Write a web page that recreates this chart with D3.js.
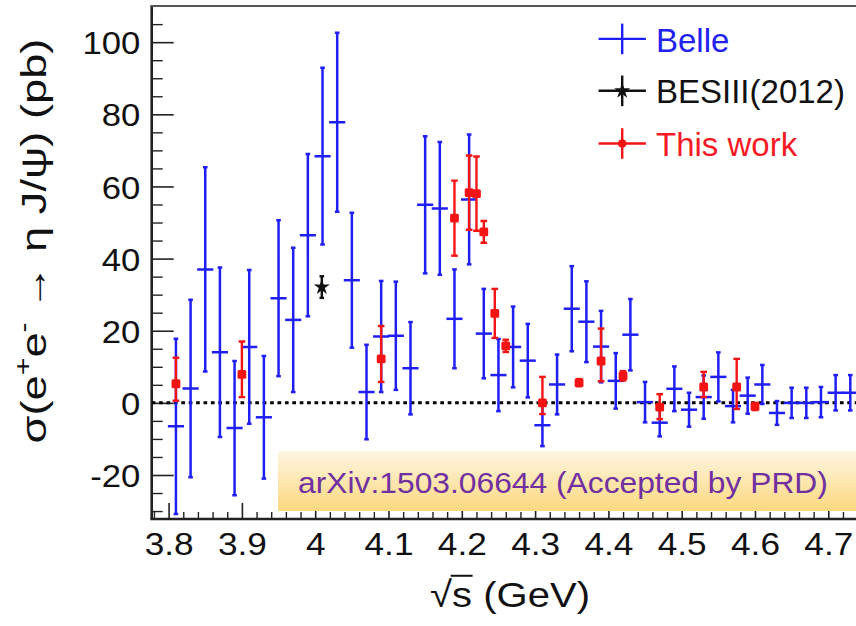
<!DOCTYPE html>
<html><head><meta charset="utf-8">
<script src="https://cdn.jsdelivr.net/npm/d3@7"></script>
<style>
body{margin:0;background:#fff}
text{font-family:"Liberation Sans",Arial,Helvetica,sans-serif}
</style>
</head><body>
<svg id="c" width="856" height="626"></svg>
<script>
// ---------------- data ----------------
const belleE = [3.81,3.83,3.85,3.87,3.89,3.91,3.93,3.95,3.97,3.99,4.01,4.03,4.05,4.07,4.09,4.11,4.13,4.15,4.17,4.19,
  4.21,4.23,4.25,4.27,4.29,4.31,4.33,4.35,4.37,4.39,4.41,4.43,4.45,4.47,4.49,4.51,4.53,4.55,4.57,4.59,4.61,4.63,
  4.65,4.67,4.69,4.71,4.73];
const belleXS = [-6.5,4.0,37.0,14.0,-7.0,15.5,-4.0,29.0,23.0,46.5,68.4,77.8,34.0,3.0,18.4,18.6,9.6,54.9,53.9,23.3,
  56.4,19.2,7.7,15.5,11.7,-6.2,5.1,26.1,22.5,15.6,6.1,18.9,0.2,-5.5,3.9,-1.9,1.6,7.2,-0.9,2.0,5.1,-2.8,
  0.0,0.0,0.2,2.8,2.8];
const belleErr = [24.3,24.6,28.3,23.5,18.6,21.3,17.0,21.6,20.0,22.5,24.5,24.8,18.7,13.1,15.4,15.0,12.8,19.0,18.4,13.7,
  18.0,12.4,10.0,11.2,10.2,5.8,8.3,11.8,11.2,9.9,7.7,9.9,5.6,3.8,6.2,4.7,6.0,6.8,4.5,5.0,5.4,3.3,
  4.2,4.2,4.2,4.9,4.9];
const belleHalfBin = 0.011;

const besE = [4.009];
const besXS = [32.1];
const besErr = [3.0];

const workE = [3.81,3.90,4.09,4.19,4.21,4.22,4.23,4.245,4.26,4.31,4.36,4.39,4.42,4.47,4.53,4.575,4.60];
const workXS = [5.3,7.9,12.2,51.2,58.3,58.0,47.4,24.8,15.8,0.0,5.6,11.6,7.5,-1.2,4.4,4.4,-1.0];
const workErrHi = [7.2,9.1,9.1,10.4,10.3,10.3,3.0,6.8,1.7,7.2,1.0,9.0,1.3,3.6,4.2,7.8,1.0];
const workErrLo = [4.7,6.3,6.4,10.4,10.3,10.3,3.0,6.8,1.7,3.1,1.0,5.6,1.3,3.3,2.8,6.1,1.0];

const xTicks = [3.8,3.9,4.0,4.1,4.2,4.3,4.4,4.5,4.6,4.7];
const xTickLabels = ["3.8","3.9","4","4.1","4.2","4.3","4.4","4.5","4.6","4.7"];
const yTicks = [-20,0,20,40,60,80,100];
const yTickLabels = ["-20","0","20","40","60","80","100"];

const legendLabels = ["Belle","BESIII(2012)","This work"];
const noteText = "arXiv:1503.06644 (Accepted by PRD)";

// ---------------- layout ----------------
const BLUE = "#1f1ff5", RED = "#f51414", BLACK = "#111";
const L = 151.7, T = 6.1, B = 519, R = 860;
const svg = d3.select("#c");
const x = d3.scaleLinear().domain([3.8, 4.7]).range([168.6, 828.3]);
const y = d3.scaleLinear().domain([-32.2, 110]).range([B, T]);

const defs = svg.append("defs");
defs.append("clipPath").attr("id","clip").append("rect")
  .attr("x", L).attr("y", T).attr("width", R - L).attr("height", B - T);
const grad = defs.append("linearGradient").attr("id","boxg").attr("x1",0).attr("y1",0).attr("x2",0).attr("y2",1);
grad.append("stop").attr("offset","0%").attr("stop-color","#fef5e3");
grad.append("stop").attr("offset","100%").attr("stop-color","#fcd97e");

// ---------------- axes ----------------
const xMinor = d3.range(3.78, 4.75, 0.02).filter(v => Math.abs(v*10 - Math.round(v*10)) > 1e-6);
svg.append("g").attr("transform", `translate(0,${B})`)
  .call(d3.axisBottom(x).tickValues(xMinor).tickSize(-7).tickSizeOuter(0).tickFormat(""))
  .call(g => g.select(".domain").remove())
  .selectAll("line").attr("stroke", "#222").attr("stroke-width", 1.4);

const xSX = 1.1;
svg.append("g").attr("transform", `translate(0,${B})`)
  .call(d3.axisBottom(x).tickValues(xTicks).tickSize(-16).tickSizeOuter(0)
        .tickFormat((d,i) => xTickLabels[i]))
  .call(g => g.select(".domain").remove())
  .call(g => g.selectAll("line").attr("stroke", "#222").attr("stroke-width", 1.6))
  .call(g => g.selectAll("text").attr("y", 36).attr("dy", null)
        .attr("font-size", 32).attr("fill", "#111")
        .attr("font-family", '"Liberation Sans",Arial,sans-serif')
        .attr("transform", `scale(${xSX},1)`));

const yMinor = d3.range(-30, 110, 5).filter(v => v % 20 !== 0);
svg.append("g").attr("transform", `translate(${L},0)`)
  .call(d3.axisLeft(y).tickValues(yMinor).tickSize(-11).tickSizeOuter(0).tickFormat(""))
  .call(g => g.select(".domain").remove())
  .selectAll("line").attr("stroke", "#222").attr("stroke-width", 1.4);

const ySX = 1.12;
svg.append("g").attr("transform", `translate(${L},0)`)
  .call(d3.axisLeft(y).tickValues(yTicks).tickSize(-22).tickSizeOuter(0)
        .tickFormat((d,i) => yTickLabels[i]))
  .call(g => g.select(".domain").remove())
  .call(g => g.selectAll("line").attr("stroke", "#222").attr("stroke-width", 1.6))
  .call(g => g.selectAll("text").attr("x", -11.4 / ySX).attr("dy", 11.6)
        .attr("font-size", 31).attr("fill", "#111")
        .attr("font-family", '"Liberation Sans",Arial,sans-serif')
        .attr("transform", `scale(${ySX},1)`));

// frame
const frame = svg.append("g").attr("stroke", "#222").attr("fill", "none");
frame.append("line").attr("x1", L).attr("x2", L).attr("y1", T).attr("y2", B).attr("stroke-width", 2.6);
frame.append("line").attr("x1", L - 1.3).attr("x2", R).attr("y1", B).attr("y2", B).attr("stroke-width", 2.6);
frame.append("line").attr("x1", L - 1.3).attr("x2", R).attr("y1", T).attr("y2", T).attr("stroke-width", 2).attr("stroke", "#555");

// zero line
const plot = svg.append("g").attr("clip-path", "url(#clip)");
plot.append("line").attr("x1", L).attr("x2", R).attr("y1", y(0)).attr("y2", y(0))
  .attr("stroke", "#000").attr("stroke-width", 3).attr("stroke-dasharray", "3.7,3.7");

// ---------------- Belle ----------------
const bg = plot.append("g").attr("stroke", BLUE).attr("stroke-width", 2.5).attr("fill", "none");
belleE.forEach((e, i) => {
  const v = belleXS[i], er = belleErr[i];
  const cx = x(e);
  bg.append("line").attr("x1", cx).attr("x2", cx).attr("y1", y(v - er)).attr("y2", y(v + er));
  bg.append("line").attr("x1", cx - 2.3).attr("x2", cx + 2.3).attr("y1", y(v - er)).attr("y2", y(v - er));
  bg.append("line").attr("x1", cx - 2.3).attr("x2", cx + 2.3).attr("y1", y(v + er)).attr("y2", y(v + er));
  bg.append("line").attr("x1", x(e - belleHalfBin)).attr("x2", x(e + belleHalfBin)).attr("y1", y(v)).attr("y2", y(v));
});

// ---------------- BESIII(2012) ----------------
const kg = plot.append("g");
besE.forEach((e, i) => {
  const v = besXS[i], er = besErr[i], cx = x(e);
  kg.append("line").attr("x1", cx).attr("x2", cx).attr("y1", y(v - er)).attr("y2", y(v + er))
    .attr("stroke", BLACK).attr("stroke-width", 2.4);
  [v - er, v + er].forEach(w => kg.append("line").attr("x1", cx - 2.3).attr("x2", cx + 2.3)
    .attr("y1", y(w)).attr("y2", y(w)).attr("stroke", BLACK).attr("stroke-width", 2.4));
  kg.append("path").attr("d", d3.symbol(d3.symbolStar, 80)())
    .attr("transform", `translate(${cx},${y(v)})`).attr("fill", BLACK);
});

// ---------------- This work ----------------
const rg = plot.append("g");
workE.forEach((e, i) => {
  const v = workXS[i], cx = x(e);
  const lo = y(v - workErrLo[i]), hi = y(v + workErrHi[i]);
  rg.append("line").attr("x1", cx).attr("x2", cx).attr("y1", lo).attr("y2", hi)
    .attr("stroke", RED).attr("stroke-width", 2.4);
  [lo, hi].forEach(yy => rg.append("line").attr("x1", cx - 3.3).attr("x2", cx + 3.3)
    .attr("y1", yy).attr("y2", yy).attr("stroke", RED).attr("stroke-width", 2.4));
  rg.append("rect").attr("x", cx - 4.4).attr("y", y(v) - 4.4).attr("width", 8.8).attr("height", 8.8)
    .attr("rx", 1.5).attr("fill", RED);
});

// ---------------- legend ----------------
const legY = [38.9, 90.8, 143.5];
const legCol = [BLUE, BLACK, RED];
const lg = svg.append("g");
legendLabels.forEach((lab, i) => {
  const cy = legY[i], c = legCol[i];
  lg.append("line").attr("x1", 598.6).attr("x2", 645.9).attr("y1", cy).attr("y2", cy)
    .attr("stroke", c).attr("stroke-width", 2.4);
  lg.append("line").attr("x1", 622.2).attr("x2", 622.2).attr("y1", cy - 15.3).attr("y2", cy + 15.3)
    .attr("stroke", c).attr("stroke-width", 2.4);
  if (i === 1) lg.append("path").attr("d", d3.symbol(d3.symbolStar, 80)())
    .attr("transform", `translate(622.2,${cy})`).attr("fill", BLACK);
  if (i === 2) lg.append("circle").attr("cx", 622.2).attr("cy", cy).attr("r", 4.3).attr("fill", RED);
  lg.append("text").attr("x", 656).attr("y", cy + 12.6).attr("font-size", 33)
    .attr("fill", i === 0 ? "#2222ee" : (i === 2 ? "#f41a26" : "#111")).text(lab);
});

// ---------------- note box ----------------
svg.append("rect").attr("x", 278).attr("y", 451).attr("width", 600).attr("height", 60)
  .attr("fill", "url(#boxg)");
const note = svg.append("text").attr("text-anchor", "middle").attr("font-size", 30)
  .attr("fill", "#7030a0").text(noteText);
{
  const w = note.node().getBBox().width, k = 530 / w;
  note.attr("transform", `translate(563,493) scale(${k},1)`);
}

// ---------------- axis titles ----------------
const yt = svg.append("g").attr("transform", "translate(46,241) rotate(-90)");
const ytt = yt.append("text").attr("text-anchor", "middle").attr("font-size", 36).attr("fill", "#111");
ytt.append("tspan").text("σ(e");
ytt.append("tspan").attr("dy", -15).attr("font-size", 24).text("+");
ytt.append("tspan").attr("dy", 15).text("e");
ytt.append("tspan").attr("dy", -15).attr("font-size", 24).text("-");
ytt.append("tspan").attr("dy", 15).text(" → η J/ψ) (pb)");
{
  const w = ytt.node().getBBox().width;
  ytt.attr("transform", `scale(${405 / w},1)`);
}

const xt = svg.append("g");
const xtt = xt.append("text").attr("text-anchor", "middle").attr("font-size", 36).attr("fill", "#111");
xtt.append("tspan").text("√");
xtt.append("tspan").text("s (GeV)");
{
  const w = xtt.node().getBBox().width, k = 160 / w;
  xt.attr("transform", `translate(510,606.7) scale(${k},1)`);
  const ext = xtt.node().getExtentOfChar(0);
  const sEnd = xtt.node().getEndPositionOfChar(1);
  xt.append("line").attr("x1", ext.x + ext.width - 1.2).attr("x2", sEnd.x + 0.5)
    .attr("y1", ext.y + 1.2).attr("y2", ext.y + 1.2).attr("stroke", "#111").attr("stroke-width", 2);
}
</script>
</body></html>
